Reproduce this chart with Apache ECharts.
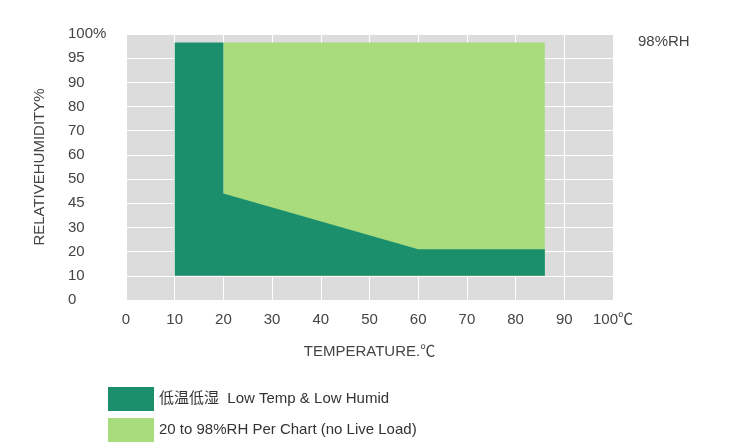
<!DOCTYPE html>
<html>
<head>
<meta charset="utf-8">
<script src="https://cdn.jsdelivr.net/npm/echarts@6/dist/echarts.min.js"></script>
<style>html,body{margin:0;padding:0;background:#fff}#chart{width:730px;height:447px}</style>
</head>
<body>
<div id="chart"></div>
<script>
// y axis rows are evenly spaced, labels are not linear
const yLabels = ['0', '10', '20', '30', '45', '50', '60', '70', '80', '90', '95', '100%'];
const xLabels = ['0', '10', '20', '30', '40', '50', '60', '70', '80', '90', '100℃'];
// polygons as [temperature, row index]
const lightArea = [[20, 1], [20, 10.65], [86, 10.65], [86, 1]];
const darkArea = [[10, 1], [10, 10.65], [20, 10.65], [20, 4.4], [60, 2.1], [86, 2.1], [86, 1]];

const font = 'Arial, "Liberation Sans", "Noto Sans CJK SC", sans-serif';

function polygonSeries(name, color, pts) {
    return {
        name: name,
        type: 'custom',
        itemStyle: {color: color},
        data: [0],
        renderItem: function (params, api) {
            return {
                type: 'polygon',
                shape: {points: pts.map(p => api.coord(p))},
                style: {fill: color}
            };
        }
    };
}

let chart = echarts.init(document.getElementById('chart'));
chart.setOption({
    animation: false,
    textStyle: {fontFamily: font},
    grid: {
        left: 126, right: 117, top: 34, bottom: 147,
        show: true, backgroundColor: '#dcdcdc', borderWidth: 0
    },
    xAxis: {
        type: 'value', min: 0, max: 100, interval: 10,
        name: 'TEMPERATURE.℃', nameLocation: 'middle', nameGap: 44,
        nameTextStyle: {color: '#444', fontSize: 15, fontFamily: font},
        axisLine: {show: false}, axisTick: {show: false},
        axisLabel: {color: '#444', fontSize: 15, margin: 12, formatter: v => xLabels[v / 10]},
        splitLine: {lineStyle: {color: '#fff', width: 1}}
    },
    yAxis: {
        type: 'value', min: 0, max: 11, interval: 1,
        name: 'RELATIVEHUMIDITY%', nameLocation: 'middle', nameGap: 79, nameRotate: 90,
        nameTextStyle: {color: '#444', fontSize: 15, fontFamily: font},
        axisLine: {show: false}, axisTick: {show: false},
        axisLabel: {color: '#444', fontSize: 15, margin: 10, align: 'left', padding: [0, 0, 0, -48], formatter: v => yLabels[v]},
        splitLine: {lineStyle: {color: '#fff', width: 1}}
    },
    legend: {
        orient: 'vertical', left: 103, top: 382, itemGap: 7, itemStyle: {borderWidth: 0},
        itemWidth: 46, itemHeight: 24, icon: 'rect',
        textStyle: {color: '#333', fontSize: 15, fontFamily: font},
        data: ['低温低湿  Low Temp & Low Humid', '20 to 98%RH Per Chart (no Live Load)']
    },
    graphic: [{
        type: 'text', left: 638, top: 34,
        style: {text: '98%RH', fill: '#444', font: '15px ' + font}
    }],
    series: [
        polygonSeries('20 to 98%RH Per Chart (no Live Load)', '#a8dc7c', lightArea),
        polygonSeries('低温低湿  Low Temp & Low Humid', '#1b8f6c', darkArea)
    ]
});
</script>
</body>
</html>
